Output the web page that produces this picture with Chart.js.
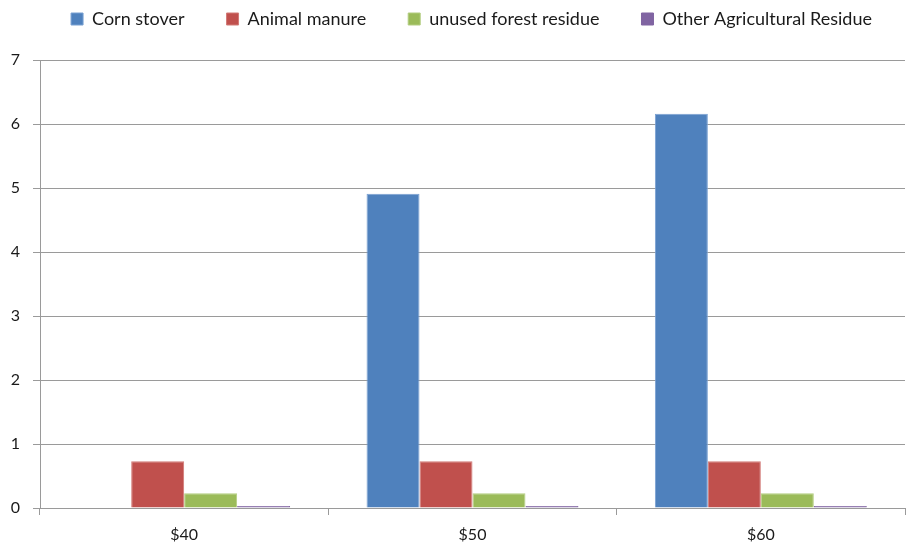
<!DOCTYPE html>
<html>
<head>
<meta charset="utf-8">
<script src="https://cdn.jsdelivr.net/npm/chart.js@4"></script>
<style>
  html, body { margin:0; padding:0; background:#fff; }
  #wrap { width:907px; height:546px; position:relative; }
</style>
</head>
<body>
<div id="wrap"><canvas id="chart"></canvas></div>
<script>
// Biomass resource by price point
const categories   = ["$40", "$50", "$60"];
const cornStover   = [0, 4.91, 6.16];
const animalManure = [0.73, 0.73, 0.73];
const forestResid  = [0.23, 0.23, 0.23];
const otherAgResid = [0.03, 0.03, 0.03];
const yTicks       = [0, 1, 2, 3, 4, 5, 6, 7];

const FONT = "Lato, 'Open Sans', sans-serif";
const GRID = "#9a9a9a";

// fixed legend height so the plot top sits where the reference has it,
// and nudge it right like the reference
const legendBox = {
    id: "legendBox",
    beforeInit(chart) {
        const lg = chart.legend;
        const fit = lg.fit;
        lg.fit = function () {
            fit.bind(lg)();
            this.height = 92;
        };
        const draw = lg.draw;
        lg.draw = function () {
            const ctx = chart.ctx;
            ctx.save();
            ctx.translate(19, 0);
            draw.apply(lg, arguments);
            ctx.restore();
        };
    }
};

function ds(label, data, color, edge) {
    return { label, data, backgroundColor: color, borderColor: edge,
             borderWidth: 1, borderSkipped: "bottom",
             barPercentage: 1.0, categoryPercentage: 0.735 };
}

new Chart(document.getElementById("chart").getContext("2d"), {
    type: "bar",
    data: {
        labels: categories,
        datasets: [
            ds("Corn stover",                cornStover,   "#4f81bd", "#79a0d2"),
            ds("Animal manure",              animalManure, "#c0504d", "#d27a77"),
            ds("unused forest residue",      forestResid,  "#9bbb59", "#b3cd80"),
            ds("Other Agricultural Residue", otherAgResid, "#8064a2", "#8064a2"),
        ],
    },
    options: {
        responsive: true, maintainAspectRatio: false, animation: false,
        layout: { padding: { left: 0, right: 2, top: -32, bottom: 0 } },
        plugins: {
            legend: {
                position: "top",
                labels: { boxWidth: 12, boxHeight: 12, padding: 42,
                          color: "#1a1a1a", font: { family: FONT, size: 18 } }
            },
            tooltip: { enabled: false }
        },
        scales: {
            x: {
                grid: { drawOnChartArea: false, color: GRID, tickLength: 7, offset: true },
                border: { color: GRID },
                ticks: { color: "#1a1a1a", padding: 10, font: { family: FONT, size: 16 } },
                afterFit: s => { s.height = 38; }
            },
            y: {
                min: 0, max: 7,
                afterBuildTicks: s => { s.ticks = yTicks.map(v => ({ value: v })); },
                grid: { color: GRID, tickLength: 7 },
                border: { color: GRID },
                ticks: { color: "#1a1a1a", padding: 13, font: { family: FONT, size: 16 } },
                afterFit: s => { s.width = 40; }
            }
        }
    },
    plugins: [legendBox]
});
</script>
</body>
</html>
